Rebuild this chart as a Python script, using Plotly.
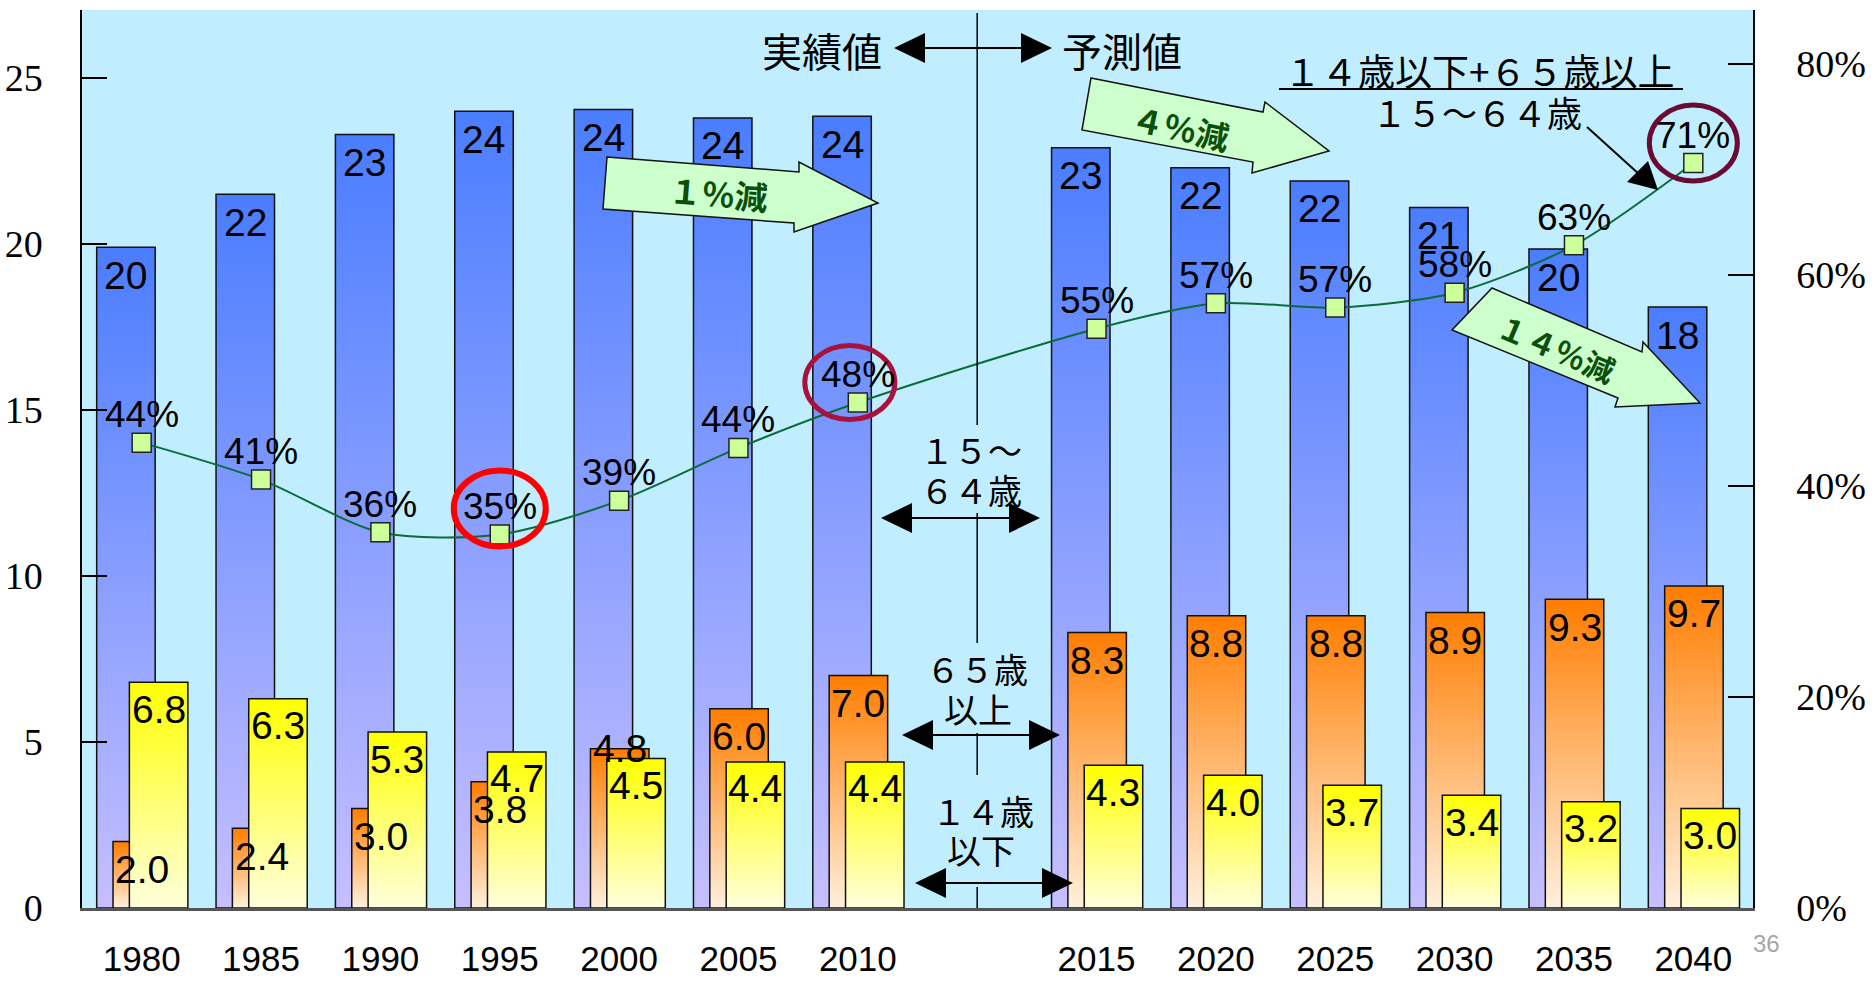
import plotly.graph_objects as go

# ---------------- data ----------------
years = [1980, 1985, 1990, 1995, 2000, 2005, 2010, 2015, 2020, 2025, 2030, 2035, 2040]
pop_15_64 = [19.9, 21.5, 23.3, 24.0, 24.05, 23.8, 23.85, 22.9, 22.3, 21.9, 21.1, 19.85, 18.1]   # 15～64歳
pop_65_over = [2.0, 2.4, 3.0, 3.8, 4.8, 6.0, 7.0, 8.3, 8.8, 8.8, 8.9, 9.3, 9.7]             # 65歳以上
pop_14_under = [6.8, 6.3, 5.3, 4.7, 4.5, 4.4, 4.4, 4.3, 4.0, 3.7, 3.4, 3.2, 3.0]            # 14歳以下
dependency_ratio = [0.441, 0.406, 0.356, 0.354, 0.386, 0.436, 0.479, 0.549, 0.573, 0.569, 0.583, 0.628, 0.706]
last_actual_year = 2010
left_ticks = [0, 5, 10, 15, 20, 25]
right_ticks = [0, 0.2, 0.4, 0.6, 0.8]

# ---------------- layout geometry ----------------
W, H = 1873, 981
L, R, T, B = 82, 120, 10, 73
PW, PH = W - L - R, H - T - B


def px_x(px):
    return (px - L) / PW


def px_y(py):
    return (T + PH - py) / PH


def path(points):
    return "M " + " L ".join(f"{px_x(x):.5f},{px_y(y):.5f}" for x, y in points) + " Z"


# category slots: a blank slot separates actual values and projections
pos = [i + (1 if y > last_actual_year else 0) for i, y in enumerate(years)]
gap_pos = sum(1 for y in years if y <= last_actual_year)

BAR_W = 0.49
series = [
    (pop_15_64, -0.377, "#c6bfff", "#4a7dff"),
    (pop_65_over, -0.240, "#fff0dc", "#ff7d00"),
    (pop_14_under, -0.103, "#ffffdc", "#ffff00"),
]

fig = go.Figure()
for vals, off, c_low, c_high in series:
    for p, v in zip(pos, vals):
        x0 = p + off
        x1 = x0 + BAR_W
        fig.add_trace(go.Scatter(
            x=[x0, x1, x1, x0, x0], y=[0, 0, v, v, 0],
            mode="lines", fill="toself",
            fillgradient=dict(type="vertical", colorscale=[[0, c_low], [1, c_high]]),
            line=dict(color="#111111", width=1.5),
            hoverinfo="skip", showlegend=False,
        ))

fig.add_trace(go.Scatter(
    x=pos, y=dependency_ratio, yaxis="y2", mode="lines+markers",
    line=dict(color="#0d6b3a", width=2, shape="spline", smoothing=0.8),
    marker=dict(symbol="square", size=19, color="#ccff99", line=dict(color="#222222", width=1.5)),
    hoverinfo="skip", showlegend=False,
))

annotations = []
LABEL_FONT = dict(family="Liberation Sans, Arial, sans-serif", size=39, color="#000000")
CJK = "Noto Sans CJK JP, sans-serif"

# bar value labels
label_nudge_65 = {2000: 28}
for yr, p, v in zip(years, pos, pop_15_64):
    annotations.append(dict(x=p - 0.377 + BAR_W / 2, y=v, xref="x", yref="y", yshift=-28,
                            text=f"{round(v)}", showarrow=False, font=LABEL_FONT))
for yr, p, v in zip(years, pos, pop_65_over):
    annotations.append(dict(x=p - 0.240 + BAR_W / 2, y=v, xref="x", yref="y",
                            yshift=-28 + label_nudge_65.get(yr, 0),
                            text=f"{v:.1f}", showarrow=False, font=LABEL_FONT))
for yr, p, v in zip(years, pos, pop_14_under):
    annotations.append(dict(x=p - 0.103 + BAR_W / 2, y=v, xref="x", yref="y", yshift=-27,
                            text=f"{v:.1f}", showarrow=False, font=LABEL_FONT))
for p, r in zip(pos, dependency_ratio):
    annotations.append(dict(x=p, y=r, xref="x", yref="y2", yshift=28,
                            text=f"{round(r * 100)}%", showarrow=False,
                            font=dict(family="Liberation Sans, Arial, sans-serif", size=37, color="#000000")))


def text_px(txt, cx, cy, size, color="#000000", bold=False, angle=0, family=CJK):
    annotations.append(dict(x=px_x(cx), y=px_y(cy), xref="paper", yref="paper",
                            text=f"<b>{txt}</b>" if bold else txt, showarrow=False,
                            xanchor="center", yanchor="middle", textangle=angle,
                            font=dict(family=family, size=size, color=color)))


text_px("実績値", 822, 50, 40)
text_px("予測値", 1122, 50, 40)
text_px("１４歳以下+６５歳以上", 1479, 70, 37)
text_px("１５～６４歳", 1477, 111, 35)
text_px("１５～", 971, 450, 34)
text_px("６４歳", 971, 489, 34)
text_px("６５歳", 977, 668, 34)
text_px("以上", 978, 708, 34)
text_px("１４歳", 983, 810, 34)
text_px("以下", 981, 849, 34)
text_px("１％減", 718, 193, 33, color="#0a4f0a", bold=True, angle=4.5)
text_px("４％減", 1180, 127, 33, color="#0a4f0a", bold=True, angle=12)
text_px("１４％減", 1557, 347, 31, color="#0a4f0a", bold=True, angle=23)
text_px("36", 1766, 943, 24, color="#a6a6a6", family="Liberation Sans, Arial, sans-serif")

shapes = []
# vertical divider between actual and projected values (broken around the labels)
for y_top, y_bot in [(13, 425), (513, 643), (733, 775), (887, 908)]:
    shapes.append(dict(type="line", xref="x", yref="paper", x0=gap_pos, x1=gap_pos,
                       y0=px_y(y_bot), y1=px_y(y_top), line=dict(color="#000000", width=1.5),
                       layer="above"))


def double_arrow(xl, xr, y, head=31, half=15):
    shapes.append(dict(type="line", xref="paper", yref="paper", x0=px_x(xl + head - 2),
                       x1=px_x(xr - head + 2), y0=px_y(y), y1=px_y(y),
                       line=dict(color="#000000", width=2), layer="above"))
    for tip, base in [(xl, xl + head), (xr, xr - head)]:
        shapes.append(dict(type="path", xref="paper", yref="paper",
                           path=path([(tip, y), (base, y - half), (base, y + half)]),
                           fillcolor="#000000", line=dict(width=0), layer="above"))


double_arrow(894, 1052, 48)
double_arrow(881, 1040, 518)
double_arrow(902, 1060, 735)
double_arrow(915, 1073, 883)

# pointer from the ratio caption to the last point
shapes.append(dict(type="line", xref="paper", yref="paper", x0=px_x(1587), y0=px_y(127),
                   x1=px_x(1640), y1=px_y(175), line=dict(color="#000000", width=2), layer="above"))
shapes.append(dict(type="path", xref="paper", yref="paper",
                   path=path([(1658, 190), (1627, 182), (1648, 161)]),
                   fillcolor="#000000", line=dict(width=0), layer="above"))
# fraction bar under the caption
shapes.append(dict(type="line", xref="paper", yref="paper", x0=px_x(1279), x1=px_x(1683),
                   y0=px_y(89), y1=px_y(89), line=dict(color="#000000", width=2), layer="above"))

# block arrows
for pts in [
    [(607, 157), (799, 172), (799, 162), (878, 203), (794, 232), (794, 223), (603, 209)],
    [(1091, 78), (1263, 112), (1265, 102), (1329, 151), (1252, 173), (1253, 162), (1082, 130)],
    [(1492, 288), (1642, 352), (1643, 342), (1700, 403), (1615, 407), (1618, 398), (1452, 330)],
]:
    shapes.append(dict(type="path", xref="paper", yref="paper", path=path(pts),
                       fillcolor="#ccffcc", line=dict(color="#111111", width=1.5), layer="above"))

# highlight circles around selected ratio points
for yr, dx, dy, rx, ry, col, lw in [
    (1995, 0, 26, 46, 38, "#ff0000", 6),
    (2010, -8, 20, 45, 37, "#a8123c", 5),
    (2040, 0, 20, 44, 38, "#6b0a35", 5),
]:
    i = years.index(yr)
    shapes.append(dict(type="circle", xref="x", yref="y2", xsizemode="pixel", ysizemode="pixel",
                       xanchor=pos[i], yanchor=dependency_ratio[i],
                       x0=dx - rx, x1=dx + rx, y0=dy - ry, y1=dy + ry,
                       line=dict(color=col, width=lw), layer="above"))

SERIF = dict(family="Liberation Serif, Times New Roman, serif", size=38, color="#000000")
fig.update_layout(
    width=W, height=H,
    margin=dict(l=L, r=R, t=T, b=B, pad=0, autoexpand=False),
    paper_bgcolor="#ffffff", plot_bgcolor="#c0eeff",
    showlegend=False,
    xaxis=dict(range=[-0.5, len(years) + 0.5], tickvals=pos, ticktext=[str(y) for y in years],
               showline=True, linecolor="#555555", linewidth=2.5, ticks="",
               showgrid=False, zeroline=False, ticklabelstandoff=18, automargin=False,
               tickfont=dict(family="Liberation Sans, Arial, sans-serif", size=35, color="#000000")),
    yaxis=dict(range=[0, 27.05], tickvals=left_ticks, ticks="inside", ticklen=25, tickwidth=1.5,
               tickcolor="#000000", showline=True, linecolor="#000000", linewidth=1.5,
               showgrid=False, zeroline=False, tickfont=SERIF, ticklabelstandoff=30,
               automargin=False),
    yaxis2=dict(overlaying="y", side="right", range=[0, 0.851], tickvals=right_ticks,
                tickformat=".0%", ticks="inside", ticklen=25, tickwidth=1.5, tickcolor="#000000",
                showline=True, linecolor="#000000", linewidth=1.5, showgrid=False, zeroline=False,
                tickfont=SERIF, ticklabelstandoff=34, automargin=False),
    annotations=annotations,
    shapes=shapes,
)

fig.write_html("out.html")
